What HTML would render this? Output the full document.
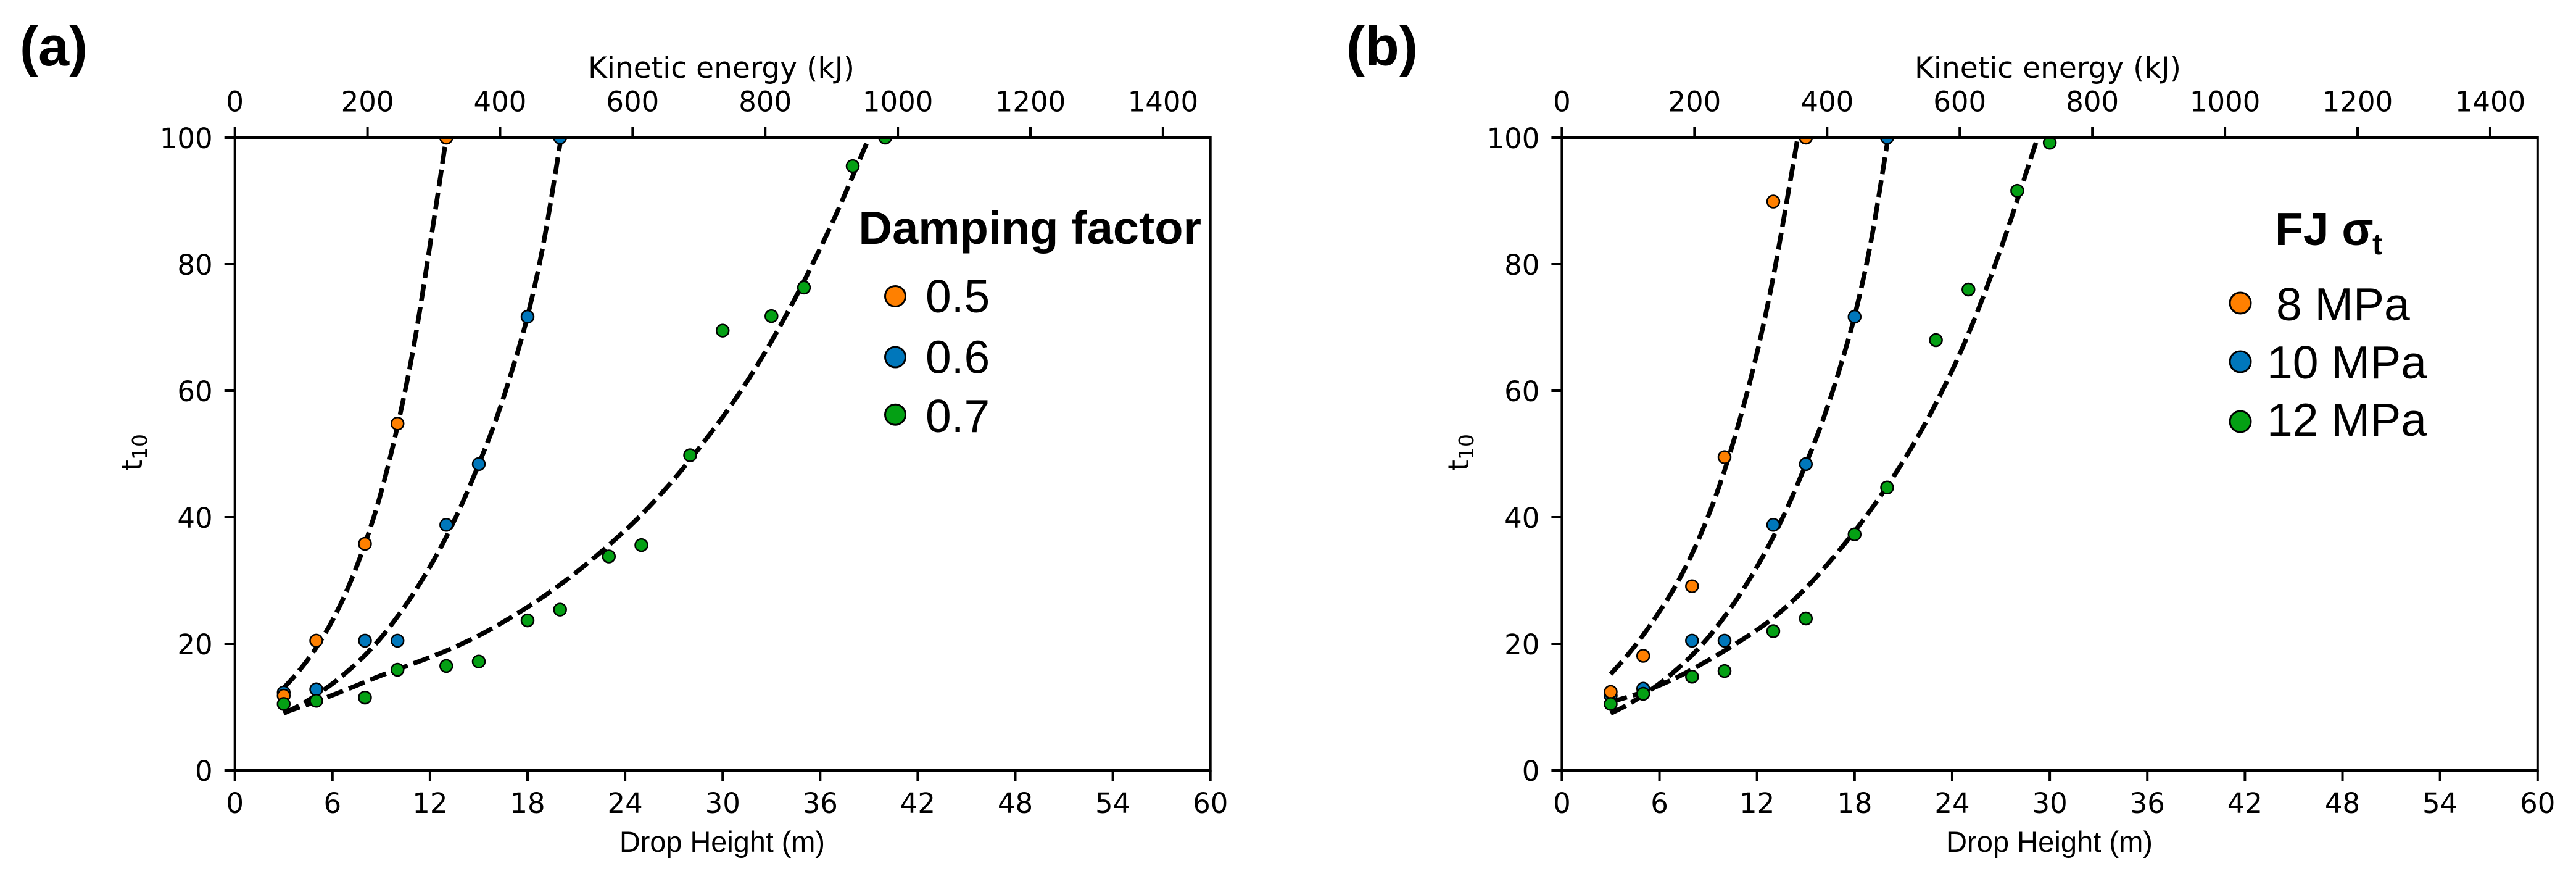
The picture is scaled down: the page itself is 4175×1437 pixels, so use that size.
<!DOCTYPE html>
<html lang="en">
<head>
<meta charset="utf-8">
<title>t10 versus drop height and kinetic energy</title>
<style>
html,body{margin:0;padding:0;background:#fff;}
svg{display:block;}
.dj{font-family:"DejaVu Sans",sans-serif;fill:#000;}
.ls{font-family:"Liberation Sans",sans-serif;fill:#000;}
.b{font-weight:bold;}
</style>
</head>
<body>
<svg id="figure" xmlns="http://www.w3.org/2000/svg" width="4175" height="1437" viewBox="0 0 4175 1437">
  <rect x="0" y="0" width="4175" height="1437" fill="#ffffff"/>
  <defs>
    <clipPath id="clip-a"><rect x="380.7" y="223" width="1581" height="1025"/></clipPath>
    <clipPath id="clip-b"><rect x="2531.4" y="223" width="1581.4" height="1025"/></clipPath>
  </defs>

  <g id="panel-a">
    <text class="ls b" x="32" y="106" font-size="90" textLength="110" lengthAdjust="spacingAndGlyphs">(a)</text>
    <text class="dj" x="953" y="126" font-size="47" textLength="432" lengthAdjust="spacingAndGlyphs">Kinetic energy (kJ)</text>
    <text class="ls" x="1004" y="1380" font-size="47" textLength="333" lengthAdjust="spacingAndGlyphs">Drop Height (m)</text>
    <text class="dj" transform="translate(230,763) rotate(-90)" font-size="46">t<tspan font-size="33" dy="8">10</tspan></text>
    <g id="plot-a"></g>
    <g>
      <text class="ls b" x="1391.4" y="395" font-size="75" textLength="555.6" lengthAdjust="spacingAndGlyphs">Damping factor</text>
      <circle cx="1451" cy="480" r="16.5" fill="#ff8000" stroke="#000" stroke-width="3"/>
      <text class="ls" x="1500" y="506" font-size="75">0.5</text>
      <circle cx="1451" cy="578.5" r="16.5" fill="#0077bb" stroke="#000" stroke-width="3"/>
      <text class="ls" x="1500" y="604.5" font-size="75">0.6</text>
      <circle cx="1451" cy="671.7" r="16.5" fill="#04a014" stroke="#000" stroke-width="3"/>
      <text class="ls" x="1500" y="700" font-size="75">0.7</text>
    </g>
  </g>

  <g id="panel-b">
    <text class="ls b" x="2182" y="106" font-size="90" textLength="116" lengthAdjust="spacingAndGlyphs">(b)</text>
    <text class="dj" x="3103" y="126" font-size="47" textLength="432" lengthAdjust="spacingAndGlyphs">Kinetic energy (kJ)</text>
    <text class="ls" x="3154" y="1380" font-size="47" textLength="335" lengthAdjust="spacingAndGlyphs">Drop Height (m)</text>
    <text class="dj" transform="translate(2380,763) rotate(-90)" font-size="46">t<tspan font-size="33" dy="8">10</tspan></text>
    <g id="plot-b"></g>
    <g>
      <text class="ls b" x="3687" y="397" font-size="75">FJ σ</text>
      <text class="ls b" x="3845" y="412" font-size="48">t</text>
      <circle cx="3631" cy="491" r="17" fill="#ff8000" stroke="#000" stroke-width="3"/>
      <text class="ls" x="3689" y="519" font-size="75">8 MPa</text>
      <circle cx="3631" cy="586" r="17" fill="#0077bb" stroke="#000" stroke-width="3"/>
      <text class="ls" x="3674" y="613" font-size="75" textLength="259" lengthAdjust="spacingAndGlyphs">10 MPa</text>
      <circle cx="3631" cy="683" r="17" fill="#04a014" stroke="#000" stroke-width="3"/>
      <text class="ls" x="3674" y="706" font-size="75" textLength="259" lengthAdjust="spacingAndGlyphs">12 MPa</text>
    </g>
  </g>
</svg>

<script>
// ---- tick labels ----
const xTicks = [0, 6, 12, 18, 24, 30, 36, 42, 48, 54, 60];
const yTicks = [0, 20, 40, 60, 80, 100];
const energyTicks = [0, 200, 400, 600, 800, 1000, 1200, 1400];

// ---- panel (a) scatter data: drop height (m) and t10 ----
const aOrangeH = [3, 5, 8, 10, 13];
const aOrangeT = [11.8, 20.5, 35.8, 54.8, 100];
const aBlueH = [3, 5, 8, 10, 13, 15, 18, 20];
const aBlueT = [12.3, 12.8, 20.5, 20.5, 38.8, 48.4, 71.7, 100];
const aGreenH = [3, 5, 8, 10, 13, 15, 18, 20, 23, 25, 28, 30, 33, 35, 38, 40];
const aGreenT = [10.5, 11, 11.5, 15.9, 16.5, 17.2, 23.7, 25.4, 33.8, 35.6, 49.8, 69.5, 71.8, 76.3, 95.5, 100];

// ---- panel (a) fitted curves ----
const aOrangeFitH = [3, 4, 5, 6, 7, 8, 9, 10, 11, 12, 13];
const aOrangeFitT = [13, 15.9, 19.4, 23.7, 29.1, 35.8, 44, 54.4, 67, 83, 100];
const aBlueFitH = [3, 4, 5, 6, 7, 8, 9, 10, 11, 12, 13, 14, 15, 16, 17, 18, 19, 20];
const aBlueFitT = [9, 10.3, 11.9, 13.7, 15.8, 18.2, 21, 24.3, 28, 32.2, 36.9, 42.3, 48.4, 55, 62.8, 71.8, 83.5, 99];
const aGreenFitH = [3, 5, 7, 9, 11, 13, 15, 17, 19, 21, 23, 25, 27, 29, 31, 33, 35, 37, 39];
const aGreenFitT = [9.1, 10.9, 12.9, 15, 16.9, 18.9, 21.3, 24.2, 27.5, 31.3, 35.6, 40.4, 46, 52.4, 59.5, 67.8, 77.3, 88, 100];

// ---- panel (b) scatter data ----
const bOrangeH = [3, 5, 8, 10, 13, 15];
const bOrangeT = [12.4, 18.1, 29.1, 49.5, 89.9, 100];
const bBlueH = [3, 5, 8, 10, 13, 15, 18, 20];
const bBlueT = [11.8, 12.9, 20.5, 20.5, 38.8, 48.4, 71.7, 100];
const bGreenH = [3, 5, 8, 10, 13, 15, 18, 20, 23, 25, 28, 30];
const bGreenT = [10.5, 12.1, 14.8, 15.7, 22, 24, 37.3, 44.7, 68, 76, 91.6, 99.2];

// ---- panel (b) fitted curves ----
const bOrangeFitH = [3, 4, 5, 6, 7, 8, 9, 10, 11, 12, 13, 14, 14.5];
const bOrangeFitT = [15.2, 18.1, 21.4, 25.1, 29.2, 34.2, 40.2, 47.4, 56, 66, 78, 92.5, 100];
const bBlueFitH = [3, 4, 5, 6, 7, 8, 9, 10, 11, 12, 13, 14, 15, 16, 17, 18, 19, 20];
const bBlueFitT = [9, 10.3, 11.9, 13.7, 15.8, 18.2, 21, 24.3, 28, 32.2, 36.9, 42.3, 48.4, 55, 62.8, 71.8, 83.5, 99];
const bGreenFitH = [3, 5, 7, 9, 11, 13, 15, 17, 19, 21, 23, 25, 27, 29, 29.25];
const bGreenFitT = [10.8, 12.4, 14.6, 17.4, 20.5, 24.1, 28.8, 34.6, 41.2, 48.9, 58, 69, 82.5, 98, 100];

const SVGNS = 'http://www.w3.org/2000/svg';
const ORANGE = '#ff8000', BLUE = '#0077bb', GREEN = '#04a014';
const TOP = 223, BOTTOM = 1248;
const HEIGHT_MAX = 60, ENERGY_MAX = 1471.5, T_MAX = 100;

function make(tag, parent, attrs) {
  const el = document.createElementNS(SVGNS, tag);
  Object.keys(attrs).forEach(function (k) { el.setAttribute(k, attrs[k]); });
  parent.appendChild(el);
  return el;
}

function curvePath(xs, ys, sx, sy) {
  const p = xs.map(function (v, i) { return [sx(v), sy(ys[i])]; });
  let d = 'M' + p[0][0].toFixed(1) + ' ' + p[0][1].toFixed(1);
  for (let i = 0; i < p.length - 1; i++) {
    const a = p[Math.max(0, i - 1)], b = p[i], c = p[i + 1], e = p[Math.min(p.length - 1, i + 2)];
    const c1x = b[0] + (c[0] - a[0]) / 6, c1y = b[1] + (c[1] - a[1]) / 6;
    const c2x = c[0] - (e[0] - b[0]) / 6, c2y = c[1] - (e[1] - b[1]) / 6;
    d += 'C' + c1x.toFixed(1) + ' ' + c1y.toFixed(1) + ' ' + c2x.toFixed(1) + ' ' + c2y.toFixed(1) + ' ' + c[0].toFixed(1) + ' ' + c[1].toFixed(1);
  }
  return d;
}

function drawPanel(id, left, right, fits, points) {
  const root = document.getElementById('plot-' + id);
  const sx = function (h) { return left + (h / HEIGHT_MAX) * (right - left); };
  const sy = function (t) { return BOTTOM - (t / T_MAX) * (BOTTOM - TOP); };
  const se = function (e) { return left + (e / ENERGY_MAX) * (right - left); };

  const clipped = make('g', root, { 'clip-path': 'url(#clip-' + id + ')' });
  
  

  fits.forEach(function (f) {
    const path = make('path', clipped, { d: curvePath(f.h, f.t, sx, sy), fill: 'none', stroke: '#000', 'stroke-width': 7.5, 'stroke-dasharray': '27.5 10' });
    
    
  });

  points.forEach(function (s) {
    s.h.forEach(function (h, i) {
      const c = make('circle', clipped, { cx: sx(h).toFixed(1), cy: sy(s.t[i]).toFixed(1), r: 10, fill: s.color, stroke: '#000', 'stroke-width': 2.5 });
      
      
    });
  });

  const frame = make('rect', root, { x: left, y: TOP, width: right - left, height: BOTTOM - TOP, fill: 'none', stroke: '#000', 'stroke-width': 4 });
  
  

  xTicks.forEach(function (v) {
    const x = sx(v);
    const tick = make('line', root, { x1: x, x2: x, y1: BOTTOM, y2: BOTTOM + 17, stroke: '#000', 'stroke-width': 4 });
    
    
    const label = make('text', root, { x: x, y: 1317, 'text-anchor': 'middle', 'font-size': 45, class: 'dj' });
    
    
    label.textContent = String(v);
  });

  energyTicks.forEach(function (v) {
    const x = se(v);
    const tick = make('line', root, { x1: x, x2: x, y1: TOP, y2: TOP - 17, stroke: '#000', 'stroke-width': 4 });
    
    
    const label = make('text', root, { x: x, y: 180.5, 'text-anchor': 'middle', 'font-size': 45, class: 'dj' });
    
    
    label.textContent = String(v);
  });

  yTicks.forEach(function (v) {
    const y = sy(v);
    const tick = make('line', root, { x1: left, x2: left - 17, y1: y, y2: y, stroke: '#000', 'stroke-width': 4 });
    
    
    const label = make('text', root, { x: left - 36, y: y + 17, 'text-anchor': 'end', 'font-size': 45, class: 'dj' });
    
    
    label.textContent = String(v);
  });
}

drawPanel('a', 380.7, 1961.7,
  [
    { name: 'orange', h: aOrangeFitH, t: aOrangeFitT },
    { name: 'blue', h: aBlueFitH, t: aBlueFitT },
    { name: 'green', h: aGreenFitH, t: aGreenFitT }
  ],
  [
    { name: 'blue', h: aBlueH, t: aBlueT, color: BLUE },
    { name: 'orange', h: aOrangeH, t: aOrangeT, color: ORANGE },
    { name: 'green', h: aGreenH, t: aGreenT, color: GREEN }
  ]);

drawPanel('b', 2531.4, 4112.8,
  [
    { name: 'orange', h: bOrangeFitH, t: bOrangeFitT },
    { name: 'blue', h: bBlueFitH, t: bBlueFitT },
    { name: 'green', h: bGreenFitH, t: bGreenFitT }
  ],
  [
    { name: 'blue', h: bBlueH, t: bBlueT, color: BLUE },
    { name: 'orange', h: bOrangeH, t: bOrangeT, color: ORANGE },
    { name: 'green', h: bGreenH, t: bGreenT, color: GREEN }
  ]);
</script>
</body>
</html>
